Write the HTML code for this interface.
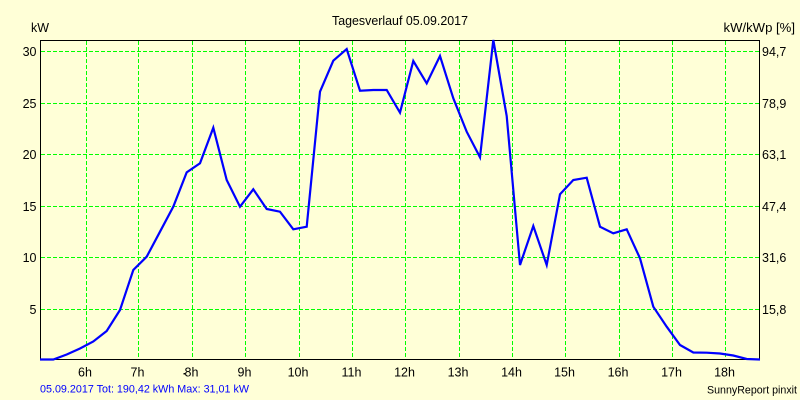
<!DOCTYPE html>
<html>
<head>
<meta charset="utf-8">
<style>
  html, body { margin: 0; padding: 0; background: #FFFFD7; }
  svg { display: block; }
  text { font-family: "Liberation Sans", Arial, sans-serif; }
</style>
</head>
<body>
<svg width="800" height="400" viewBox="0 0 800 400" xmlns="http://www.w3.org/2000/svg">
  <rect x="0" y="0" width="800" height="400" fill="#FFFFD7"/>

  <!-- grid -->
  <g stroke="#00FF00" stroke-width="1" stroke-dasharray="4 2" shape-rendering="crispEdges" fill="none">
    <line x1="41" y1="51.5" x2="759" y2="51.5"/>
    <line x1="41" y1="103.5" x2="759" y2="103.5"/>
    <line x1="41" y1="154.5" x2="759" y2="154.5"/>
    <line x1="41" y1="206.5" x2="759" y2="206.5"/>
    <line x1="41" y1="257.5" x2="759" y2="257.5"/>
    <line x1="41" y1="309.5" x2="759" y2="309.5"/>

    <line x1="86.5" y1="41" x2="86.5" y2="359"/>
    <line x1="138.5" y1="41" x2="138.5" y2="359"/>
    <line x1="192.5" y1="41" x2="192.5" y2="359"/>
    <line x1="245.5" y1="41" x2="245.5" y2="359"/>
    <line x1="299.5" y1="41" x2="299.5" y2="359"/>
    <line x1="352.5" y1="41" x2="352.5" y2="359"/>
    <line x1="405.5" y1="41" x2="405.5" y2="359"/>
    <line x1="459.5" y1="41" x2="459.5" y2="359"/>
    <line x1="512.5" y1="41" x2="512.5" y2="359"/>
    <line x1="565.5" y1="41" x2="565.5" y2="359"/>
    <line x1="619.5" y1="41" x2="619.5" y2="359"/>
    <line x1="672.5" y1="41" x2="672.5" y2="359"/>
    <line x1="725.5" y1="41" x2="725.5" y2="359"/>
  </g>

  <!-- plot frame -->
  <rect x="40.5" y="40.5" width="719" height="319" fill="none" stroke="#000" stroke-width="1" shape-rendering="crispEdges"/>

  <!-- data line -->
  <polyline fill="none" stroke="#0000FF" stroke-width="2.2" stroke-linejoin="miter" points="
    40,359.5 53.3,359.5 66.7,354.5 80,348.5 93.3,341.5 106.7,331 120,310 133.3,270
    146.7,256.7 160,231.7 173.3,206.7 186.7,172.3 200,163.3 213.3,127.7 226.7,180
    240,206.7 253.3,189.3 266.7,209 280,211.7 293.3,229.3 306.7,226.7 320,91.7
    333.3,60.7 346.7,49 360,90.7 373.3,90 386.7,90 400,112.7 413.3,61 426.7,83.3
    440,56 453.3,98.3 466.7,131.7 480,157.3 493.3,40 506.7,116 520,265 533.3,226
    546.7,265 560,194.3 573.3,180 586.7,177.7 600,226.7 613.3,233.3 626.7,229.3
    640,258.3 653.3,306.7 666.7,326.7 680,345 693.3,352.5 706.7,352.7 720,353.5
    733.3,355.5 746.7,359 760,359.5"/>

  <!-- titles -->
  <text x="332" y="25" font-size="12.5" fill="#000" textLength="136" lengthAdjust="spacingAndGlyphs">Tagesverlauf 05.09.2017</text>
  <text x="31" y="32" font-size="12.5" fill="#000" textLength="18" lengthAdjust="spacingAndGlyphs">kW</text>
  <text x="723.5" y="32" font-size="12.5" fill="#000" textLength="71.5" lengthAdjust="spacingAndGlyphs">kW/kWp [%]</text>

  <!-- left y labels -->
  <g font-size="12.5" fill="#000" text-anchor="end">
    <text x="36.5" y="55.8">30</text>
    <text x="36.5" y="107.8">25</text>
    <text x="36.5" y="158.8">20</text>
    <text x="36.5" y="210.8">15</text>
    <text x="36.5" y="261.8">10</text>
    <text x="36.5" y="313.8">5</text>
  </g>

  <!-- right y labels -->
  <g font-size="12.5" fill="#000">
    <text x="762" y="55.8">94,7</text>
    <text x="762" y="107.8">78,9</text>
    <text x="762" y="158.8">63,1</text>
    <text x="762" y="210.8">47,4</text>
    <text x="762" y="261.8">31,6</text>
    <text x="762" y="313.8">15,8</text>
  </g>

  <!-- x labels -->
  <g font-size="12.5" fill="#000" text-anchor="middle">
    <text x="85" y="376.5">6h</text>
    <text x="137.5" y="376.5">7h</text>
    <text x="191.5" y="376.5">8h</text>
    <text x="244.5" y="376.5">9h</text>
    <text x="298" y="376.5">10h</text>
    <text x="351.5" y="376.5">11h</text>
    <text x="404.5" y="376.5">12h</text>
    <text x="458" y="376.5">13h</text>
    <text x="511.5" y="376.5">14h</text>
    <text x="564.5" y="376.5">15h</text>
    <text x="618" y="376.5">16h</text>
    <text x="671.5" y="376.5">17h</text>
    <text x="724.5" y="376.5">18h</text>
  </g>
  <rect x="183.5" y="373" width="1.5" height="1.5" fill="#000"/>

  <!-- footer -->
  <text x="40" y="392.5" font-size="11" fill="#0000FF" textLength="209" lengthAdjust="spacingAndGlyphs">05.09.2017 Tot: 190,42 kWh Max: 31,01 kW</text>
  <text x="707" y="393.5" font-size="11" fill="#000" textLength="90" lengthAdjust="spacingAndGlyphs">SunnyReport pinxit</text>
</svg>
</body>
</html>
